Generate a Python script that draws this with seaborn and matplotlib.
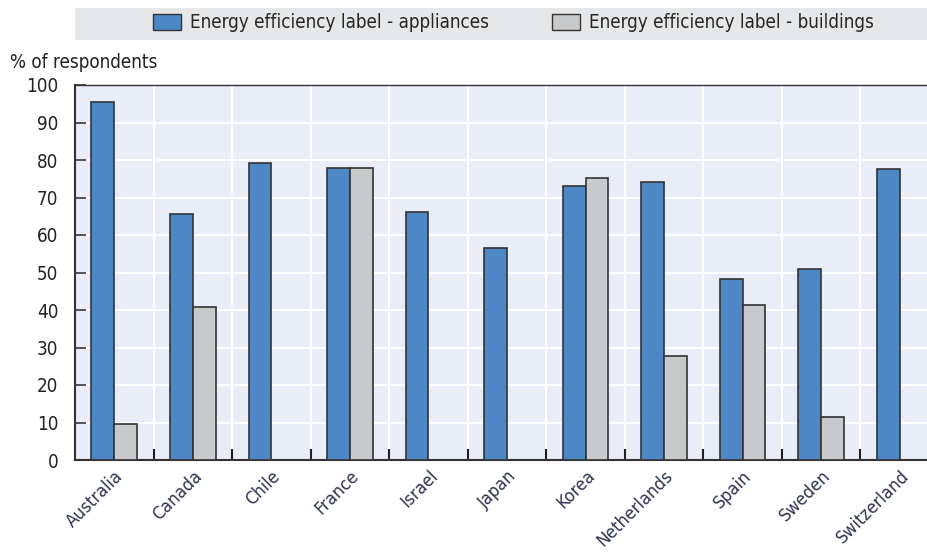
import numpy as np
import pandas as pd
import matplotlib.pyplot as plt
import seaborn as sns
from matplotlib.patches import Rectangle, Patch

# Data
countries = ["Australia", "Canada", "Chile", "France", "Israel", "Japan",
             "Korea", "Netherlands", "Spain", "Sweden", "Switzerland"]
appliances = [95.6, 65.6, 79.2, 78.0, 66.1, 56.6, 73.1, 74.2, 48.4, 50.9, 77.5]
buildings = [9.6, 40.8, np.nan, 78.0, np.nan, np.nan, 75.1, 27.8, 41.4, 11.5, np.nan]
series = ["Energy efficiency label - appliances", "Energy efficiency label - buildings"]
colors = ["#4E87C6", "#C8C9CB"]

df = pd.DataFrame({
    "country": countries * 2,
    "value": appliances + buildings,
    "series": [series[0]] * len(countries) + [series[1]] * len(countries),
})

sns.set_theme(style="white")
plt.rcParams["font.family"] = ["DejaVu Sans"]
plt.rcParams["font.stretch"] = "condensed"

fig = plt.figure(figsize=(9.28, 5.52), dpi=100)
ax = fig.add_axes([75 / 928, 92 / 552, 864 / 928, 375 / 552])
ax.set_facecolor("#E9EDF7")

sns.barplot(data=df, x="country", y="value", hue="series", palette=colors,
            saturation=1, width=0.58, gap=0, edgecolor="#333333", linewidth=1.2,
            legend=False, ax=ax, zorder=3)

ax.set_xlim(-0.5, 10.5)
ax.set_ylim(0, 100)
ax.set_yticks(range(0, 101, 10))
ax.set_xticks(np.arange(0.5, 10.5, 1), minor=True)
ax.set_xlabel("")
ax.set_ylabel("")

ax.grid(True, which="minor", axis="x", color="white", lw=1.5, zorder=0)
ax.grid(True, which="major", axis="y", color="white", lw=1.5, zorder=0)
ax.set_axisbelow(True)

ax.tick_params(axis="y", direction="in", length=8, width=1.2, color="#333333",
               labelsize=13.5, pad=12, left=True)
ax.tick_params(axis="x", which="major", length=0, labelsize=13, pad=5)
ax.tick_params(axis="x", which="minor", direction="in", length=8, width=1.5,
               color="#222222", bottom=True)
plt.setp(ax.get_xticklabels(), rotation=45, ha="right", rotation_mode="anchor",
         color="#2B3550")
plt.setp(ax.get_yticklabels(), color="#222222")

for side in ["left", "bottom", "top"]:
    ax.spines[side].set_visible(True)
    ax.spines[side].set_color("#333333")
    ax.spines[side].set_linewidth(1.5)
ax.spines["top"].set_linewidth(1.0)
ax.spines["right"].set_visible(False)

fig.text(10 / 928, 1 - 62 / 552, "% of respondents", fontsize=13.5,
         va="center", ha="left", color="#222222")

# legend strip
fig.patches.append(Rectangle((75 / 928, 1 - 40 / 552), 853 / 928, 32 / 552,
                             transform=fig.transFigure, facecolor="#E6E7E9",
                             edgecolor="none", zorder=0))
handles = [Patch(facecolor=c, edgecolor="#333333", linewidth=1.0) for c in colors]
fig.legend(handles, series, loc="center left", ncol=2, frameon=False,
           bbox_to_anchor=(153 / 928, 1 - 23 / 552), fontsize=13.5,
           borderpad=0, borderaxespad=0,
           handlelength=1.5, handleheight=0.9, columnspacing=3.4,
           handletextpad=0.45)

fig.savefig("out.png", dpi=100)
plt.close()
